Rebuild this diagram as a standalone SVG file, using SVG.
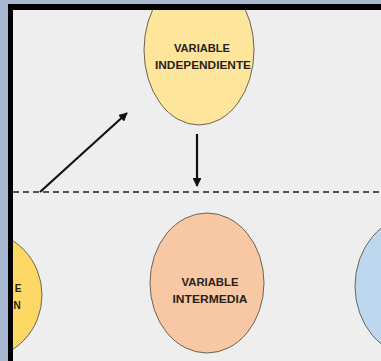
<svg xmlns="http://www.w3.org/2000/svg" width="381" height="361" viewBox="0 0 381 361">
<defs>
<marker id="ah" viewBox="0 0 10 10" refX="9" refY="5" markerWidth="4" markerHeight="4" orient="auto" markerUnits="strokeWidth">
<path d="M0,0 L10,5 L0,10 z" fill="#111"/>
</marker>
<style>
.lbl{font-family:"Liberation Sans",Arial,sans-serif;font-weight:bold;font-size:10px;fill:#2a2218;text-anchor:middle;dominant-baseline:central}
.node{stroke:#6b6455;stroke-width:1}
.arr{stroke:#111;stroke-width:2.2;fill:none;marker-end:url(#ah)}
</style>
</defs>
<rect x="0" y="0" width="381" height="361" fill="#eeeeee"/>
<g id="node-independiente">
<ellipse class="node" cx="199" cy="50" rx="55" ry="75" fill="#fde59b"/>
<text class="lbl" x="202" y="48" textLength="56" lengthAdjust="spacingAndGlyphs">VARIABLE</text>
<text class="lbl" x="203" y="65" textLength="96" lengthAdjust="spacingAndGlyphs">INDEPENDIENTE</text>
</g>
<g id="node-intermedia">
<ellipse class="node" cx="207" cy="283" rx="57" ry="70" fill="#f8c8a5"/>
<text class="lbl" x="210" y="282" textLength="57" lengthAdjust="spacingAndGlyphs">VARIABLE</text>
<text class="lbl" x="210" y="299" textLength="75" lengthAdjust="spacingAndGlyphs">INTERMEDIA</text>
</g>
<g id="node-left">
<ellipse class="node" cx="-20" cy="295" rx="62" ry="64" fill="#fdd865"/>
<text class="lbl" x="18" y="288">E</text>
<text class="lbl" x="17" y="305">N</text>
</g>
<g id="node-right">
<ellipse class="node" cx="415" cy="286" rx="60" ry="70" fill="#bdd7ee"/>
</g>
<g id="connectors">
<line x1="13" y1="192" x2="381" y2="192" stroke="#222" stroke-width="1.4" stroke-dasharray="6,4"/>
<line class="arr" x1="197" y1="134" x2="197" y2="186"/>
<line class="arr" x1="40" y1="192" x2="127" y2="113"/>
</g>
<rect x="0" y="0" width="381" height="4" fill="#aab9d2"/>
<rect x="0" y="0" width="8" height="361" fill="#aab9d2"/>
<rect x="8" y="4" width="373" height="6" fill="#000"/>
<rect x="8" y="4" width="5" height="357" fill="#000"/>
</svg>
